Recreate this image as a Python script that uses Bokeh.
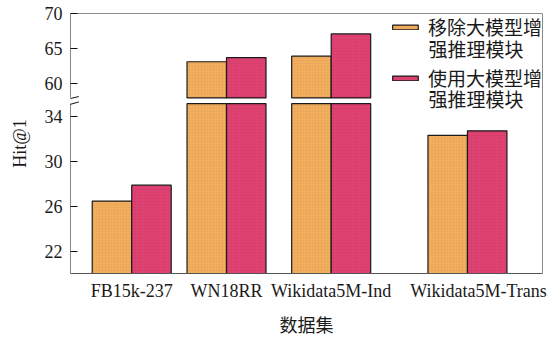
import numpy as np
from bokeh.embed import file_html
from bokeh.models import (Arrow, BooleanFilter, CDSView, ColumnDataSource, CustomJSTickFormatter,
                          FixedTicker, Label, Legend, LegendItem, LinearAxis, Range1d)
from bokeh.plotting import figure
from bokeh.resources import INLINE
from bokeh.transform import dodge

# ---- data -------------------------------------------------------------
datasets = ["FB15k-237", "WN18RR", "Wikidata5M-Ind", "Wikidata5M-Trans"]
hit1_without = [26.5, 63.1, 63.9, 32.3]   # 移除大模型增强推理模块
hit1_with = [27.9, 63.7, 67.1, 32.7]      # 使用大模型增强推理模块
legend_line1 = ["移除大模型增", "使用大模型增"]
legend_line2 = ["强推理模块", "强推理模块"]
low_ticks = [22, 26, 30, 34]
high_ticks = [60, 65, 70]

# ---- layout -----------------------------------------------------------
group_x = [1.55, 3.95, 6.6, 10.05]        # centre of each dataset's pair of bars
label_x = [1.55, 3.95, 6.6, 10.33]        # where each dataset name is written
BAR_W = 1.0
LOW_START, LOW_BREAK = 20.1, 35.1         # lower part of the broken y axis
HIGH_BREAK, HIGH_END = 57.9, 70.04        # upper part of the broken y axis
LOW_END = 43.06                           # lower scale stretched over the whole frame
HIGH_START = 32.66                        # upper scale stretched over the whole frame
RATIO = (LOW_END - LOW_START) / (HIGH_END - HIGH_START)


def high_to_low(v):
    """Position of an upper-scale value expressed on the lower scale."""
    return LOW_START + (v - HIGH_START) * RATIO


SERIF = "Liberation Serif"
CJK = "Noto Sans CJK SC"
ORANGE = "#EEA65C"
CRIMSON = "#D93F68"
INK = "#1a1a1a"

p = figure(width=550, height=339, output_backend="svg", toolbar_location=None,
           x_range=Range1d(0, 11.95), y_range=Range1d(LOW_START, LOW_END),
           min_border_left=70, min_border_right=8, min_border_top=13, min_border_bottom=58,
           x_axis_location=None, y_axis_location=None)
p.extra_y_ranges = {"high": Range1d(HIGH_START, HIGH_END)}
p.outline_line_color = None
p.grid.visible = False
p.border_fill_color = "white"

src = ColumnDataSource(dict(
    x=group_x,
    without=hit1_without,
    with_=hit1_with,
    without_low=np.minimum(hit1_without, LOW_BREAK),
    with_low=np.minimum(hit1_with, LOW_BREAK),
))
view_a = CDSView(filter=BooleanFilter([v > HIGH_BREAK for v in hit1_without]))
view_b = CDSView(filter=BooleanFilter([v > HIGH_BREAK for v in hit1_with]))

style_a = dict(fill_color=ORANGE, hatch_pattern="dot", hatch_color="#F6C75A",
               hatch_scale=3, hatch_weight=1, hatch_alpha=0.9)
style_b = dict(fill_color=CRIMSON, hatch_pattern="dot", hatch_color="#E9488F",
               hatch_scale=3, hatch_weight=1, hatch_alpha=0.9)
bar_style = dict(width=BAR_W, line_color=INK, line_width=1.2)

# lower segment of every bar
ra = p.vbar(x=dodge("x", -BAR_W / 2, range=p.x_range), top="without_low", bottom=0,
            source=src, **style_a, **bar_style)
rb = p.vbar(x=dodge("x", BAR_W / 2, range=p.x_range), top="with_low", bottom=0,
            source=src, **style_b, **bar_style)
# upper segment of the bars that cross the break
p.vbar(x=dodge("x", -BAR_W / 2, range=p.x_range), top="without", bottom=HIGH_BREAK,
       source=src, view=view_a, y_range_name="high", **style_a, **bar_style)
p.vbar(x=dodge("x", BAR_W / 2, range=p.x_range), top="with_", bottom=HIGH_BREAK,
       source=src, view=view_b, y_range_name="high", **style_b, **bar_style)

# ticks and tick labels of both scales on one side axis
y_labels = LinearAxis(
    ticker=FixedTicker(ticks=low_ticks + [high_to_low(v) for v in high_ticks]),
    formatter=CustomJSTickFormatter(
        args=dict(brk=LOW_BREAK, lo=LOW_START, hi=HIGH_START, ratio=RATIO),
        code="""
            if (tick <= brk) return Math.round(tick).toString();
            return Math.round(hi + (tick - lo) / ratio).toString();
        """))
y_labels.axis_line_color = None
y_labels.major_tick_in = 7
y_labels.major_tick_out = 0
y_labels.major_tick_line_color = "#111111"
y_labels.minor_tick_line_color = None
y_labels.major_label_text_font = SERIF
y_labels.major_label_text_font_size = "18px"
y_labels.major_label_text_color = INK
y_labels.major_label_standoff = 8
y_labels.axis_label = "Hit@1"
y_labels.axis_label_text_font = SERIF
y_labels.axis_label_text_font_size = "18px"
y_labels.axis_label_text_font_style = "normal"
y_labels.axis_label_text_color = INK
y_labels.axis_label_standoff = 12
p.add_layout(y_labels, "left")

# axis line of each segment, interrupted at the break
for rng, bounds in (("default", (LOW_START, LOW_BREAK)), ("high", (HIGH_BREAK, HIGH_END))):
    seg = LinearAxis(y_range_name=rng, ticker=FixedTicker(ticks=[]), bounds=bounds,
                     fixed_location=0, major_tick_in=0, major_tick_out=0,
                     minor_tick_line_color=None, axis_line_color="#111111")
    p.add_layout(seg, "left")

x_ax = LinearAxis(ticker=FixedTicker(ticks=label_x),
                  major_label_overrides={x: name for x, name in zip(label_x, datasets)})
x_ax.major_tick_in = 0
x_ax.major_tick_out = 0
x_ax.minor_tick_line_color = None
x_ax.major_label_text_font = SERIF
x_ax.major_label_text_font_size = "18px"
x_ax.major_label_text_color = INK
x_ax.major_label_standoff = 7
x_ax.axis_line_color = "#555555"
x_ax.axis_label = "数据集"
x_ax.axis_label_text_font = CJK
x_ax.axis_label_text_font_size = "18px"
x_ax.axis_label_text_font_style = "normal"
x_ax.axis_label_text_color = INK
x_ax.axis_label_standoff = 7
p.add_layout(x_ax, "below")

# plain frame lines along the top and right
for side in ("above", "right"):
    ax = LinearAxis(ticker=FixedTicker(ticks=[]), axis_line_color="#8a8a8a",
                    major_tick_in=0, major_tick_out=0, minor_tick_line_color=None,
                    major_label_standoff=0)
    p.add_layout(ax, side)

# break marks on the y axis
p.add_layout(Arrow(end=None, x_start=-0.09, x_end=0.21, y_start=LOW_BREAK - 0.15,
                   y_end=LOW_BREAK + 0.15, line_color="#111111", line_width=1))
p.add_layout(Arrow(end=None, x_start=-0.09, x_end=0.21, y_start=HIGH_BREAK - 0.2,
                   y_end=HIGH_BREAK + 0.2, y_range_name="high",
                   line_color="#111111", line_width=1))

# legend: swatch beside the first line of each entry, second line below it
legend = Legend(items=[LegendItem(label=legend_line1[0], renderers=[ra]),
                       LegendItem(label=legend_line1[1], renderers=[rb])],
                location="top_right", margin=0, padding=0, spacing=24,
                glyph_width=32, glyph_height=6, label_standoff=7, label_height=22,
                label_text_font=CJK, label_text_font_size="19px",
                label_text_color=INK, border_line_color=None, background_fill_alpha=0)
p.add_layout(legend)

text_x = (542 - 6 * 19 - 70) / 39.5       # left edge of the legend text
for y, txt in zip((65.05, 57.8), legend_line2):
    p.add_layout(Label(x=text_x, y=y, y_range_name="high", text=txt, text_align="left",
                       text_baseline="middle", text_font=CJK, text_font_size="19px",
                       text_color=INK))

open("out.html", "w").write(file_html(p, INLINE))
